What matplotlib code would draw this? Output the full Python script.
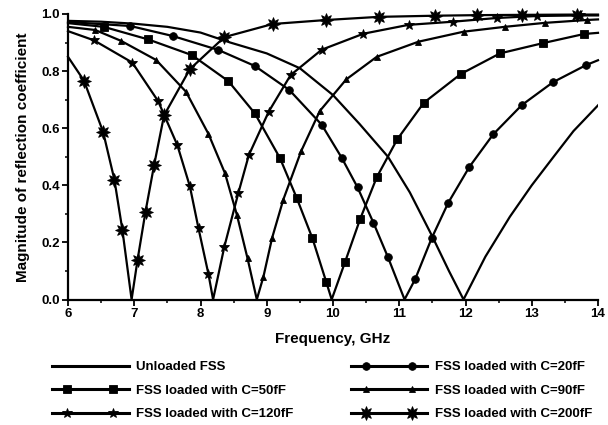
import numpy as np
import matplotlib
matplotlib.use("Agg")
import matplotlib.pyplot as plt
from matplotlib.ticker import MultipleLocator, FormatStrFormatter
from matplotlib.legend_handler import HandlerLine2D
from matplotlib.lines import Line2D

plt.rcParams['font.family'] = ['Liberation Sans', 'DejaVu Sans']
plt.rcParams['font.weight'] = 'bold'

# unloaded FSS (line only)
unl_x = [6.0, 6.5, 7.0, 7.5, 8.0, 8.45, 9.0, 9.5, 10.0, 10.4, 10.83, 11.16, 11.49, 11.75, 11.97,
         12.3, 12.67, 13.0, 13.33, 13.63, 14.0]
unl_y = [0.976, 0.973, 0.966, 0.955, 0.935, 0.90, 0.862, 0.81, 0.716, 0.615, 0.50, 0.375, 0.225, 0.10, 0.0,
         0.15, 0.29, 0.40, 0.50, 0.59, 0.68]

# C=20fF, circles
c20_mx = [6.94, 7.58, 8.27, 8.82, 9.34, 9.83, 10.13, 10.37, 10.61, 10.83, 11.24, 11.49, 11.74,
          12.06, 12.42, 12.85, 13.32, 13.82]
c20_my = [0.958, 0.923, 0.874, 0.818, 0.734, 0.612, 0.497, 0.393, 0.269, 0.148, 0.071, 0.215, 0.339,
          0.465, 0.579, 0.681, 0.761, 0.821]
c20_ex = [6.0, 11.08, 14.0]
c20_ey = [0.972, 0.0, 0.838]

# C=50fF, squares
c50_mx = [6.54, 7.21, 7.87, 8.42, 8.82, 9.20, 9.45, 9.69, 9.90, 10.18, 10.41, 10.66, 10.97, 11.37,
          11.93, 12.52, 13.17, 13.79]
c50_my = [0.955, 0.911, 0.856, 0.765, 0.652, 0.495, 0.357, 0.214, 0.06, 0.13, 0.282, 0.428, 0.561, 0.689,
          0.79, 0.862, 0.898, 0.93]
c50_ex = [6.0, 9.98, 14.0]
c50_ey = [0.968, 0.0, 0.934]

# C=90fF, triangles
c90_mx = [6.41, 6.80, 7.33, 7.78, 8.12, 8.37, 8.55, 8.71, 8.95, 9.08, 9.25, 9.52, 9.80, 10.20,
          10.66, 11.29, 11.97, 12.59, 13.20, 13.83]
c90_my = [0.944, 0.906, 0.839, 0.728, 0.58, 0.442, 0.296, 0.144, 0.08, 0.215, 0.35, 0.52, 0.66, 0.771,
          0.85, 0.903, 0.938, 0.955, 0.969, 0.979]
c90_ex = [6.0, 8.85, 14.0]
c90_ey = [0.955, 0.0, 0.981]

# C=120fF, stars
c120_mx = [6.39, 6.97, 7.36, 7.65, 7.84, 7.97, 8.12, 8.36, 8.57, 8.73, 9.03, 9.36, 9.83, 10.46,
           11.14, 11.81, 12.47, 13.08, 13.73]
c120_my = [0.908, 0.83, 0.695, 0.541, 0.396, 0.249, 0.089, 0.185, 0.372, 0.506, 0.658, 0.786, 0.875, 0.931,
           0.962, 0.973, 0.986, 0.993, 0.995]
c120_ex = [6.0, 8.19, 14.0]
c120_ey = [0.94, 0.0, 0.995]

# C=200fF, spiky stars
c200_mx = [6.24, 6.53, 6.70, 6.82, 7.05, 7.17, 7.30, 7.45, 7.84, 8.36, 9.09, 9.90, 10.69, 11.54,
           12.18, 12.85, 13.68]
c200_my = [0.767, 0.587, 0.42, 0.245, 0.139, 0.308, 0.471, 0.645, 0.807, 0.919, 0.965, 0.979, 0.99, 0.994,
           0.996, 0.997, 0.998]
c200_ex = [6.0, 6.96, 14.0]
c200_ey = [0.85, 0.0, 0.998]


def merge(mx, my, ex, ey):
    # line goes through marker points and the extra points, markers only on the first set
    x = np.array(list(mx) + list(ex))
    y = np.array(list(my) + list(ey))
    ismark = np.array([True] * len(mx) + [False] * len(ex))
    order = np.argsort(x)
    return x[order], y[order], list(np.where(ismark[order])[0])


class PadHandler(HandlerLine2D):
    # full-length line in the legend, two markers set in from the ends
    def create_artists(self, legend, orig_handle, xdescent, ydescent, width, height,
                       fontsize, trans):
        arts = super().create_artists(legend, orig_handle, xdescent, ydescent, width,
                                      height, fontsize, trans)
        ln = arts[0]
        y0 = (height - ydescent) / 2
        pad = 0.2 * width
        ln.set_data([-xdescent, -xdescent + pad, -xdescent + width - pad, -xdescent + width],
                    [y0] * 4)
        ln.set_markevery([1, 2])
        return arts


fig = plt.figure(figsize=(6.08, 4.25), dpi=100)
ax = fig.add_axes([68 / 608, 1 - 299.5 / 425, 530 / 608, 285.5 / 425])

lw = 1.6
handles = []
h, = ax.plot(unl_x, unl_y, color='black', lw=lw, label='Unloaded FSS')
handles.append(h)

series = [
    (c20_mx, c20_my, c20_ex, c20_ey, 'o', 5.5, 'FSS loaded with C=20fF'),
    (c50_mx, c50_my, c50_ex, c50_ey, 's', 5.5, 'FSS loaded with C=50fF'),
    (c90_mx, c90_my, c90_ex, c90_ey, '^', 5, 'FSS loaded with C=90fF'),
    (c120_mx, c120_my, c120_ex, c120_ey, '*', 7, 'FSS loaded with C=120fF'),
    (c200_mx, c200_my, c200_ex, c200_ey, (8, 1, 0), 10, 'FSS loaded with C=200fF'),
]
for mx, my, ex, ey, mk, ms, lab in series:
    x, y, idx = merge(mx, my, ex, ey)
    h, = ax.plot(x, y, color='black', lw=lw, marker=mk, ms=ms, markevery=idx,
                 mfc='black', mec='black', mew=0.6, label=lab, clip_on=False)
    handles.append(h)

ax.set_xlim(6, 14)
ax.set_ylim(0, 1.0)
ax.xaxis.set_major_locator(MultipleLocator(1))
ax.xaxis.set_minor_locator(MultipleLocator(0.5))
ax.yaxis.set_major_locator(MultipleLocator(0.2))
ax.yaxis.set_minor_locator(MultipleLocator(0.1))
ax.yaxis.set_major_formatter(FormatStrFormatter('%.1f'))
ax.spines['top'].set_visible(False)
ax.spines['right'].set_visible(False)
for s in ['left', 'bottom']:
    ax.spines[s].set_linewidth(1.6)
ax.tick_params(which='major', direction='out', length=4, width=1.3, labelsize=9.5, pad=2)
ax.tick_params(which='minor', direction='out', length=2.5, width=1.1)
for t in ax.get_xticklabels() + ax.get_yticklabels():
    t.set_fontweight('bold')

ax.set_xlabel('Frequency, GHz', fontsize=11, fontweight='bold', labelpad=9)
ax.set_ylabel('Magnitude of reflection coefficient', fontsize=11, fontweight='bold', labelpad=8)

# legend, column-first order
order = [0, 2, 4, 1, 3, 5]
leg = fig.legend([handles[i] for i in order], [handles[i].get_label() for i in order],
                 ncol=2, loc='upper left', bbox_to_anchor=(52 / 608, 1 - 361 / 425),
                 frameon=False, borderpad=0, borderaxespad=0,
                 handlelength=5.8, handletextpad=0.6, columnspacing=4.3, labelspacing=0.85,
                 prop={'size': 9.5, 'weight': 'bold'},
                 handler_map={Line2D: PadHandler()})
for ln in leg.get_lines():
    ln.set_linewidth(2.2)

fig.savefig('out.png', dpi=100)
